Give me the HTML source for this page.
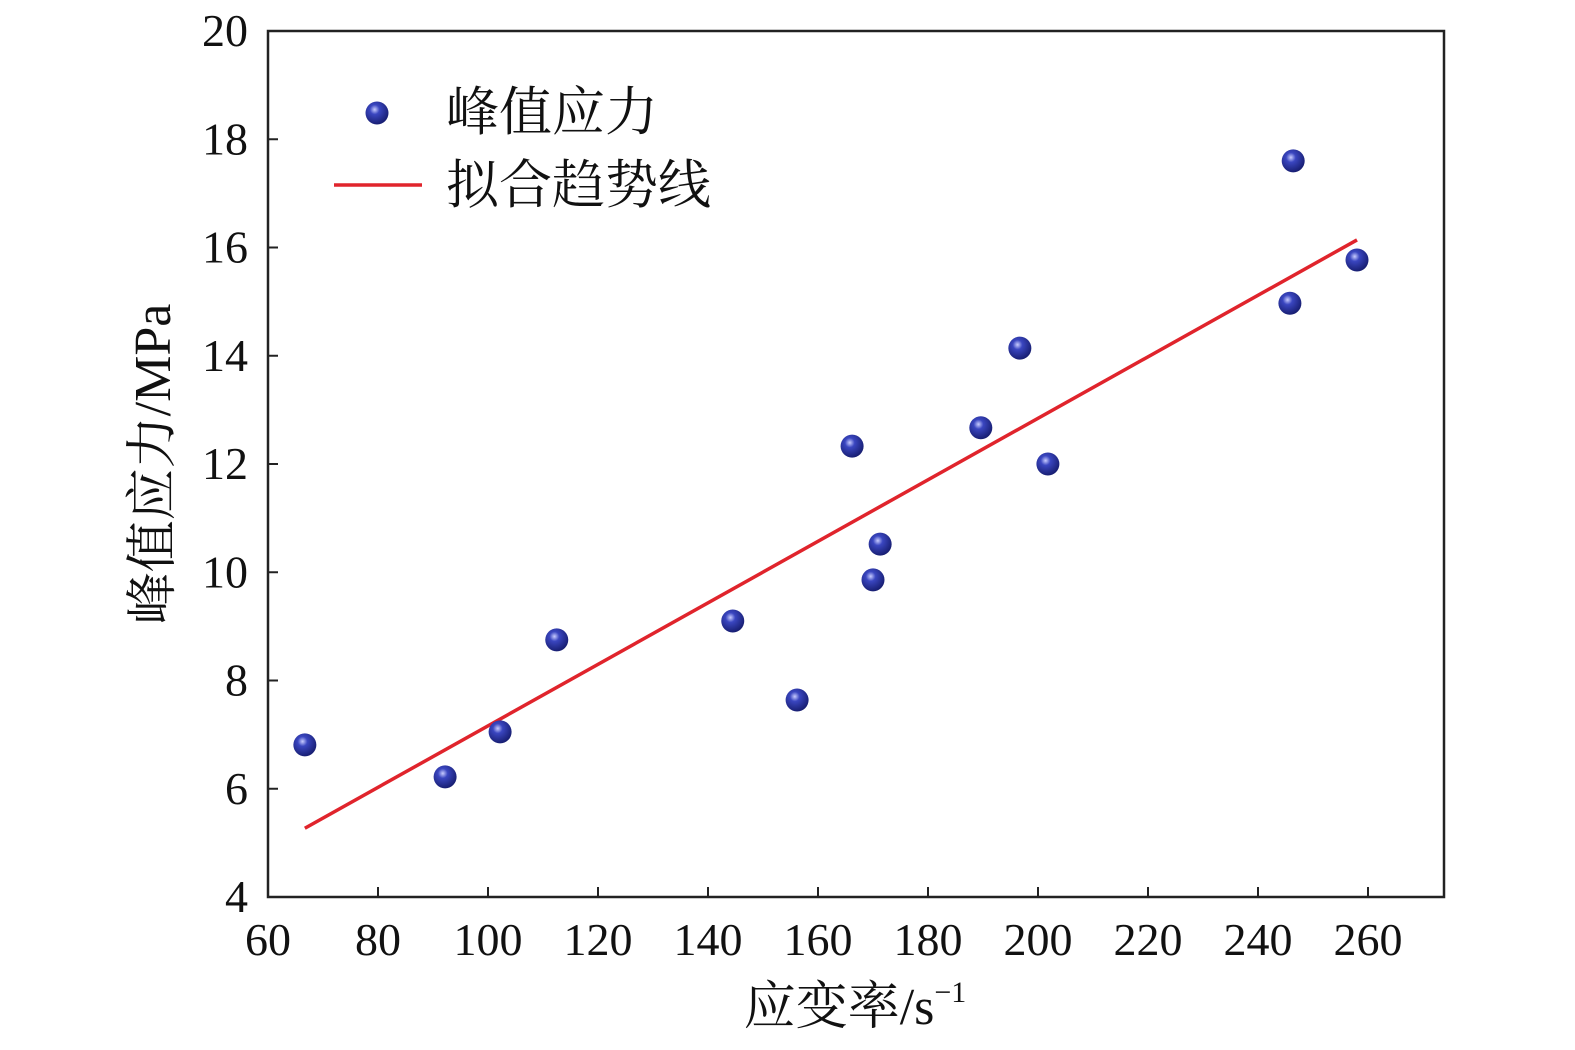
<!DOCTYPE html>
<html><head><meta charset="utf-8"><style>
body{margin:0;background:#fff;width:1575px;height:1045px;overflow:hidden}
svg text{font-family:"Liberation Serif","Noto Serif CJK SC",serif;fill:#111}
</style></head><body>
<svg id="chart" width="1575" height="1045" xmlns="http://www.w3.org/2000/svg">
<defs><radialGradient id="ball" cx="0.4" cy="0.35" r="0.7">
<stop offset="0" stop-color="#c8ccff"/><stop offset="0.3" stop-color="#3a46c0"/><stop offset="1" stop-color="#141a6a"/></radialGradient></defs>
</svg>
<script>
const xTicks=[60,80,100,120,140,160,180,200,220,240,260];
const yTicks=[4,6,8,10,12,14,16,18,20];
const strainRate=[66.7,92.2,102.2,112.5,144.5,156.2,166.2,171.3,170,189.6,196.7,201.8,245.8,246.4,258];
const peakStress=[6.81,6.22,7.05,8.75,9.10,7.64,12.33,10.52,9.86,12.67,14.14,12.0,14.97,17.6,15.77];
const fitX=[66.7,258];
const fitY=[5.27,16.14];
const L=268,R=1444,T=31,B=897;
const sx=v=>L+(v-60)*5.5;
const sy=v=>B-(v-4)*(B-T)/16;
const svg=document.getElementById('chart');
const NS='http://www.w3.org/2000/svg';
function mk(tag,attrs,parent){const e=document.createElementNS(NS,tag);for(const k in attrs)e.setAttribute(k,attrs[k]);(parent||svg).appendChild(e);return e;}
const frame=mk('rect',{x:L,y:T,width:R-L,height:B-T,fill:'none',stroke:'#222','stroke-width':2.5});


xTicks.forEach(v=>{
 const t=mk('line',{x1:sx(v),x2:sx(v),y1:B,y2:B-10,stroke:'#222','stroke-width':2});
 
 
 const l=mk('text',{x:sx(v),y:B+58,'font-size':46,'text-anchor':'middle'});l.textContent=v;
 
 
});
yTicks.forEach(v=>{
 const t=mk('line',{x1:L,x2:L+10,y1:sy(v),y2:sy(v),stroke:'#222','stroke-width':2});
 
 
 const l=mk('text',{x:L-20,y:sy(v)+15,'font-size':46,'text-anchor':'end'});l.textContent=v;
 
 
});
const fit=mk('line',{x1:sx(fitX[0]),y1:sy(fitY[0]),x2:sx(fitX[1]),y2:sy(fitY[1]),stroke:'#e0242c','stroke-width':3.5});


strainRate.forEach((v,i)=>{
 const c=mk('circle',{cx:sx(v),cy:sy(peakStress[i]),r:11.5,fill:'url(#ball)'});
 
 
});
const lm=mk('circle',{cx:377,cy:113,r:11.5,fill:'url(#ball)'});


const lt=mk('text',{x:446,y:130,'font-size':53});lt.textContent='峰值应力';


const ll=mk('line',{x1:334,x2:422,y1:185,y2:185,stroke:'#e0242c','stroke-width':3.5});


const lt2=mk('text',{x:446,y:203,'font-size':53});lt2.textContent='拟合趋势线';


const xt=mk('text',{x:855,y:1024,'font-size':52,'text-anchor':'middle'});xt.innerHTML='应变率/s<tspan font-size="30" dy="-22">−1</tspan>';


const yt=mk('text',{x:0,y:0,'font-size':52,'text-anchor':'middle',transform:'translate(170,464) rotate(-90)'});yt.textContent='峰值应力/MPa';


</script>
</body></html>
